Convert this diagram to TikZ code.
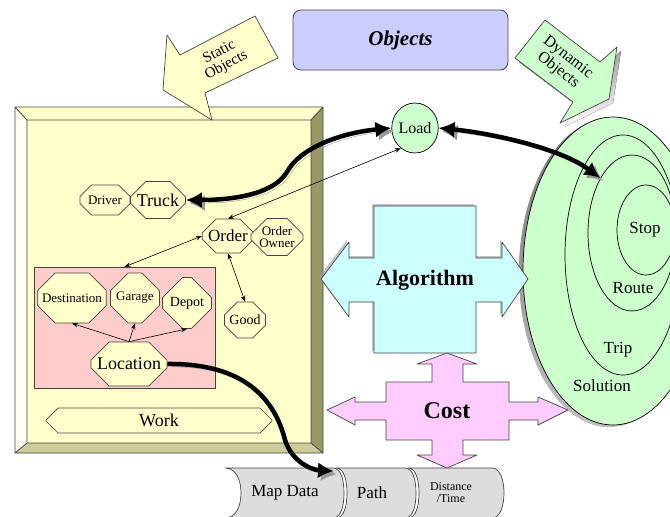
\documentclass[tikz,border=0pt]{standalone}
\usepackage{fontspec}
\setmainfont{Liberation Serif}
\usetikzlibrary{arrows.meta,shapes.misc,shapes.geometric}

\definecolor{boxface}{HTML}{FFFFCC}
\definecolor{bevellight}{HTML}{FFFFF2}
\definecolor{beveldark}{HTML}{999966}
\definecolor{bevelbottom}{HTML}{CCCC99}
\definecolor{regionpink}{HTML}{FFCCCC}
\definecolor{dynagreen}{HTML}{CCFFCC}
\definecolor{objblue}{HTML}{CCCCFF}
\definecolor{algcyan}{HTML}{CCFFFF}
\definecolor{costpink}{HTML}{FFCCFF}
\definecolor{pipegray}{HTML}{DDDDDD}
\definecolor{edgegray}{HTML}{444444}
\definecolor{shade}{HTML}{999999}

\newcommand{\fsz}[1]{\fontsize{#1}{#1}\selectfont}

\tikzset{
  oct/.style={chamfered rectangle, chamfered rectangle xsep=#1, chamfered rectangle ysep=#1,
    draw=edgegray, fill=boxface, line width=0.7pt, inner sep=0pt},
  oct/.default=8pt,
  ell/.style={ellipse, draw=black, fill=dynagreen, line width=0.7pt, inner sep=0pt},
  link/.style={line width=0.6pt, {Stealth[length=6pt,width=4.5pt]}-{Stealth[length=6pt,width=4.5pt]}},
  bigarrow/.style={line width=4.5pt,
    preaction={draw=shade, transform canvas={shift={(3pt,-3pt)}}}},
  crossshadow/.style={preaction={fill=shade, opacity=.6, transform canvas={shift={(-2pt,2pt)}}}},
}

\begin{document}
\begin{tikzpicture}[x=1pt,y=-1pt,line join=round]
\clip (0,0) rectangle (670,517);

% objects header
\node[draw=edgegray, fill=objblue, rounded corners=8pt, line width=0.8pt,
  minimum width=215pt, minimum height=60pt, font=\fsz{21}\bfseries\itshape] (objects) at (400.5,40) {Objects};

% static box with bevel
\fill[boxface] (15,107) -- (323,107) -- (311,120) -- (27,120) -- cycle;
\fill[bevellight] (15,107) -- (27,120) -- (27,443) -- (15,453) -- cycle;
\fill[beveldark] (323,107) -- (323,453) -- (311,443) -- (311,120) -- cycle;
\fill[bevelbottom] (15,453) -- (323,453) -- (311,443) -- (27,443) -- cycle;
\fill[boxface] (27,120) rectangle (311,443);
\draw[edgegray, line width=0.8pt] (15,107) rectangle (323,453) (27,120) rectangle (311,443)
  (15,107) -- (27,120) (323,107) -- (311,120) (15,453) -- (27,443) (323,453) -- (311,443);

% callouts
\filldraw[fill=boxface, draw=edgegray, line width=0.7pt]
  (167,35) -- (180,55) -- (255,16) -- (278,58) -- (205,93) -- (212,120) -- (163,90) -- cycle;
\node[rotate=28, align=center, font=\fsz{15}] (statictxt) at (223,59) {Static\\Objects};
\fill[shade, shift={(4,4)}]
  (545,20) -- (600,62) -- (617,47) -- (609,99) -- (560,123) -- (573,102) -- (515,58) -- cycle;
\filldraw[fill=dynagreen, draw=edgegray, line width=0.7pt]
  (545,20) -- (600,62) -- (617,47) -- (609,99) -- (560,123) -- (573,102) -- (515,58) -- cycle;
\node[rotate=-38, align=center, font=\fsz{16}] (dyntxt) at (563,64) {Dynamic\\Objects};

% location region
\node[draw=edgegray, fill=regionpink, minimum width=181pt, minimum height=121pt, inner sep=0pt] (region) at (124.5,327.5) {};

\node[oct=7pt, minimum width=50pt, minimum height=30pt, font=\fsz{13}] (driver) at (105,200) {Driver};
\node[oct=9pt, minimum width=50pt, minimum height=37pt, font=\fsz{18}] (truck) at (158,200) {Truck};
\node[oct, minimum width=49pt, minimum height=34pt, font=\fsz{17}] (order) at (228,236) {Order};
\node[oct, minimum width=52pt, minimum height=32pt, font=\fsz{13}, align=center] (owner) at (277,237) {Order\\[-1pt]Owner};
\node[oct=8pt, minimum width=37pt, minimum height=36pt, font=\fsz{14}] (good) at (245,320) {Good};
\node[oct=13pt, minimum width=66pt, minimum height=50pt, font=\fsz{13}] (dest) at (72,298) {Destination};
\node[oct=12pt, minimum width=44pt, minimum height=50pt, font=\fsz{13}] (garage) at (135,298) {Garage};
\node[oct=14pt, minimum width=49pt, minimum height=51pt, font=\fsz{14}] (depot) at (187,303) {Depot};
\node[oct=12pt, minimum width=75pt, minimum height=44pt, font=\fsz{18}] (location) at (129,364) {Location};
\node[oct=6pt, minimum width=226pt, minimum height=25pt, font=\fsz{18}] (work) at (159,420.5) {Work};

% dynamic objects
\node[ell, minimum width=40pt, minimum height=50pt, font=\fsz{16}] (load) at (415,128) {Load};
\fill[shade, opacity=.6] (609,273) ellipse [x radius=90, y radius=154];
\node[ell, minimum width=180pt, minimum height=308pt] (solution) at (613,271) {};
\node[ell, minimum width=116pt, minimum height=240pt] (trip) at (623,255) {};
\node[ell, minimum width=88pt, minimum height=156pt] (route) at (632,233) {};
\node[ell, minimum width=58pt, minimum height=90pt] (stop) at (646,230) {};
\node[font=\fsz{17}] (stoptxt) at (645,230) {Stop};
\node[font=\fsz{17}] (routetxt) at (633,288) {Route};
\node[font=\fsz{17}] (triptxt) at (618,350) {Trip};
\node[font=\fsz{17}] (soltxt) at (602,386) {Solution};

% algorithm
\filldraw[fill=algcyan, draw=edgegray, line width=0.7pt, crossshadow]
  (321,279) -- (349,242) -- (349,258) -- (374,258) -- (374,206) -- (476,206) -- (476,258)
  -- (502,258) -- (502,242) -- (528,279) -- (502,317) -- (502,302) -- (476,302) -- (476,353)
  -- (374,353) -- (374,302) -- (349,302) -- (349,317) -- cycle;
\node[font=\fsz{22}\bfseries] (algorithm) at (425,280) {Algorithm};

% cost
\filldraw[fill=costpink, draw=edgegray, line width=0.7pt]
  (447,353) -- (477,364) -- (463,364) -- (463,382) -- (509,382) -- (509,402) -- (538,402)
  -- (538,397) -- (568,410) -- (538,425) -- (538,420) -- (509,420) -- (509,440) -- (463,440)
  -- (463,455) -- (477,455) -- (447,468) -- (417,455) -- (432,455) -- (432,440) -- (386,440)
  -- (386,420) -- (355,420) -- (355,425) -- (327,410) -- (355,397) -- (355,402) -- (386,402)
  -- (386,382) -- (432,382) -- (432,364) -- (417,364) -- cycle;
\node[font=\fsz{24}\bfseries] (cost) at (447,411) {Cost};

% data pipe
\filldraw[fill=pipegray, draw=edgegray, line width=0.7pt]
  (225,468) -- (333,468) .. controls (341,468) and (344,480) .. (344,493)
  .. controls (344,506) and (341,518) .. (333,518) -- (225,518)
  .. controls (236,518) and (241,506) .. (241,493) .. controls (241,480) and (236,468) .. cycle;
\filldraw[fill=pipegray, draw=edgegray, line width=0.7pt]
  (336,468) -- (405,468) .. controls (413,468) and (416,480) .. (416,493)
  .. controls (416,506) and (413,518) .. (405,518) -- (336,518)
  .. controls (344,518) and (347,506) .. (347,493) .. controls (347,480) and (344,468) .. cycle;
\filldraw[fill=pipegray, draw=edgegray, line width=0.7pt]
  (408,468) -- (492,468) .. controls (500,468) and (504,480) .. (504,493)
  .. controls (504,506) and (500,518) .. (492,518) -- (408,518)
  .. controls (416,518) and (419,506) .. (419,493) .. controls (419,480) and (416,468) .. cycle;
\node[font=\fsz{17}] (mapdata) at (285,493) {Map Data};
\node[font=\fsz{17}] (path) at (372,493) {Path};
\node[font=\fsz{12}, align=center] (disttime) at (451,493) {Distance\\/Time};
\coordinate (mapin) at (334,471);

% thin links
\draw[link] (load.235) -- (order.north);
\draw[link] (region.north) -- (order.west);
\draw[link] (order.south) -- (good.north);
\draw[link, {Stealth[length=6pt,width=4.5pt]}-] (dest.south) -- (location.north);
\draw[link, {Stealth[length=6pt,width=4.5pt]}-] (garage.south) -- (location.north);
\draw[link, {Stealth[length=6pt,width=4.5pt]}-] (depot.south) -- (location.north);

% thick links
\draw[bigarrow, {Latex[length=16pt,width=16pt]}-{Latex[length=16pt,width=16pt]}]
  (truck.east) .. controls (240,200) and (275,192) .. (287,172)
  .. controls (300,148) and (340,133) .. (load.west);
\draw[bigarrow, {Latex[length=16pt,width=16pt]}-{Latex[length=16pt,width=16pt]}]
  (load.east) .. controls (490,133) and (560,148) .. (route.120);
\draw[bigarrow, -{Latex[length=16pt,width=16pt]}]
  (location.east) .. controls (245,363) and (275,400) .. (285,440)
  .. controls (292,462) and (312,470) .. (mapin);
\end{tikzpicture}
\end{document}
